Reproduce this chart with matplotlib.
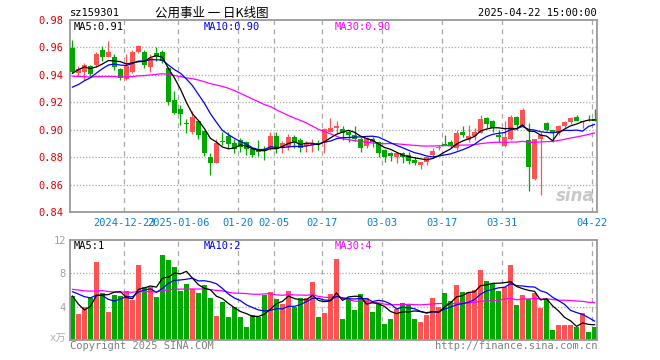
import numpy as np
import pandas as pd
import matplotlib
matplotlib.use('Agg')
import matplotlib.pyplot as plt

# daily bars 2024-12-10 .. 2025-04-22
opens = [0.9595, 0.941, 0.9423, 0.9465, 0.947, 0.958, 0.9533, 0.953, 0.944, 0.937,
         0.942, 0.9567, 0.957, 0.9455, 0.9557, 0.9567, 0.945, 0.9215, 0.915, 0.9047,
         0.8985, 0.9066, 0.8993, 0.8803, 0.876, 0.8915, 0.8957, 0.8906, 0.8925, 0.891,
         0.8857, 0.885, 0.8857, 0.8857, 0.8954, 0.8876, 0.8876, 0.8945, 0.8925, 0.888,
         0.8885, 0.890, 0.890, 0.8986, 0.901, 0.9003, 0.898, 0.896, 0.893, 0.8883,
         0.893, 0.8913, 0.8852, 0.8833, 0.880, 0.8828, 0.8816, 0.8777, 0.8743, 0.8767,
         0.8816, 0.8865, 0.8897, 0.8911, 0.8865, 0.8984, 0.8928, 0.8953, 0.8977, 0.9089,
         0.9065, 0.8962, 0.888, 0.893, 0.9095, 0.9027, 0.8925, 0.864, 0.8935, 0.9047,
         0.8998, 0.8974, 0.9027, 0.9059, 0.9095, 0.9058, 0.9085, 0.9075]
highs = [0.9655, 0.9465, 0.949, 0.947, 0.957, 0.961, 0.965, 0.955, 0.945, 0.955,
         0.958, 0.962, 0.958, 0.955, 0.960, 0.958, 0.946, 0.9285, 0.918, 0.9076,
         0.9134, 0.907, 0.900, 0.8833, 0.893, 0.8986, 0.8986, 0.893, 0.894, 0.8915,
         0.8875, 0.8925, 0.888, 0.898, 0.898, 0.8915, 0.897, 0.8965, 0.894, 0.8915,
         0.893, 0.8925, 0.9015, 0.9083, 0.9066, 0.9027, 0.900, 0.9027, 0.8947, 0.895,
         0.8945, 0.892, 0.886, 0.884, 0.8835, 0.884, 0.8835, 0.880, 0.8767, 0.8804,
         0.8865, 0.8889, 0.896, 0.8923, 0.8998, 0.9025, 0.9031, 0.901, 0.9106, 0.9095,
         0.907, 0.8998, 0.906, 0.911, 0.910, 0.9156, 0.9047, 0.8935, 0.898, 0.9055,
         0.900, 0.9035, 0.9065, 0.9095, 0.911, 0.9065, 0.9107, 0.915]
lows = [0.9415, 0.939, 0.936, 0.939, 0.946, 0.950, 0.953, 0.9435, 0.936, 0.936,
        0.941, 0.956, 0.945, 0.942, 0.950, 0.949, 0.918, 0.9115, 0.9035, 0.8978,
        0.897, 0.8935, 0.881, 0.8671, 0.8755, 0.8889, 0.887, 0.883, 0.884, 0.8815,
        0.880, 0.881, 0.8778, 0.885, 0.8829, 0.8829, 0.8855, 0.887, 0.884, 0.8835,
        0.8835, 0.8855, 0.8828, 0.898, 0.8974, 0.8925, 0.891, 0.892, 0.8837, 0.8866,
        0.8875, 0.880, 0.8767, 0.8775, 0.876, 0.8759, 0.8752, 0.8745, 0.8713, 0.8745,
        0.8791, 0.8853, 0.8888, 0.8865, 0.8852, 0.8949, 0.8913, 0.8925, 0.8975, 0.901,
        0.8986, 0.8913, 0.8875, 0.8925, 0.900, 0.902, 0.855, 0.863, 0.8524, 0.899,
        0.8908, 0.8965, 0.9015, 0.9045, 0.906, 0.901, 0.9063, 0.906]
closes = [0.9421, 0.944, 0.9472, 0.9404, 0.955, 0.953, 0.9567, 0.9455, 0.938, 0.9465,
          0.957, 0.961, 0.947, 0.952, 0.9533, 0.9504, 0.9205, 0.9125, 0.9115, 0.9043,
          0.909, 0.8962, 0.883, 0.876, 0.8906, 0.8911, 0.8896, 0.886, 0.8876, 0.886,
          0.8816, 0.8835, 0.8844, 0.8954, 0.8857, 0.890, 0.8945, 0.890, 0.8865, 0.890,
          0.8895, 0.8895, 0.9005, 0.901, 0.9027, 0.8975, 0.896, 0.8935, 0.887, 0.894,
          0.891, 0.8828, 0.8803, 0.8805, 0.8833, 0.8804, 0.8775, 0.876, 0.8767, 0.8799,
          0.8848, 0.8877, 0.8892, 0.8882, 0.8977, 0.896, 0.8953, 0.8984, 0.9081, 0.9045,
          0.901, 0.895, 0.895, 0.9095, 0.9035, 0.9144, 0.873, 0.893, 0.8965, 0.8998,
          0.8974, 0.9027, 0.9059, 0.9083, 0.9064, 0.9063, 0.9082, 0.9065]
volumes = [5.28, 3.12, 3.92, 5.0, 9.36, 5.6, 3.36, 5.4, 5.28, 5.88,
           4.8, 9.0, 6.32, 6.4, 5.2, 10.2, 9.6, 8.76, 5.92, 6.72,
           6.08, 5.68, 6.56, 5.08, 2.88, 4.6, 2.8, 4.0, 2.8, 1.6,
           3.0, 2.72, 5.4, 5.8, 4.92, 4.32, 5.92, 3.92, 5.0, 5.0,
           7.0, 2.8, 3.2, 5.52, 9.72, 2.52, 4.88, 3.6, 5.52, 5.0,
           3.36, 4.32, 1.92, 2.52, 3.72, 4.4, 4.28, 2.52, 2.16, 3.0,
           5.04, 3.92, 5.64, 4.68, 6.6, 5.8, 5.8, 6.0, 8.4, 7.08,
           6.72, 5.88, 6.32, 9.0, 4.2, 5.4, 4.88, 5.68, 3.88, 4.88,
           1.2, 1.8, 1.8, 1.8, 1.6, 3.2, 0.96, 1.56]

# closes / volumes before the visible window, estimated from where the MA lines start
prior_close = [0.950, 0.952, 0.948, 0.946, 0.951, 0.955, 0.949, 0.944, 0.947, 0.950,
               0.945, 0.941, 0.938, 0.940, 0.936, 0.934, 0.938, 0.935, 0.933, 0.928,
               0.925, 0.920, 0.918, 0.921, 0.921, 0.930, 0.938, 0.946, 0.9493]
prior_vol = [5.5, 7.0, 6.0, 8.2, 5.0, 6.5, 7.2, 5.8, 6.0, 4.8,
             6.4, 7.5, 5.9, 6.3, 5.6, 7.0, 6.1, 5.4, 6.6, 5.6,
             6.0, 7.0, 6.5, 6.1, 6.0, 8.0, 7.4, 2.9, 2.8]

tick_idx = [9, 18, 28, 34, 42, 52, 62, 72, 87]
tick_labels = ['2024-12-23', '2025-01-06', '01-20', '02-05', '02-17',
               '03-03', '03-17', '03-31', '04-22']

RED = '#FF5252'
GREEN = '#00A800'
GRID = '#A8A8A8'
FRAME = '#999999'
MONO = 'DejaVu Sans Mono'

o = np.array(opens)
h = np.array(highs)
l = np.array(lows)
c = np.array(closes)
v = np.array(volumes)
n = len(c)
x = np.arange(n)
up = c >= o
cols = np.where(up, RED, GREEN)


def ma(prior, vals, k):
    s = pd.Series(list(prior) + list(vals)).rolling(k).mean()
    return s.values[len(prior):]


ma5, ma10, ma30 = (ma(prior_close, c, k) for k in (5, 10, 30))
vma5, vma10, vma30 = (ma(prior_vol, v, k) for k in (5, 10, 30))

W, H = 660, 360
fig = plt.figure(figsize=(6.6, 3.6), dpi=100)
ax = fig.add_axes([70 / W, 1 - 212 / H, 527 / W, 192 / H])
axv = fig.add_axes([70 / W, 1 - 340 / H, 527 / W, 100 / H])

grid_x = np.array(tick_idx) - 0.35
for a in (ax, axv):
    a.set_xlim(-0.4, 87.4)
    for s in a.spines.values():
        s.set_color(FRAME)
        s.set_linewidth(1.3)
    for gx in grid_x:
        a.axvline(gx, color=GRID, lw=0.9, ls=(0, (4, 3.5)), zorder=0)
    a.tick_params(length=0)

# price panel
ax.set_ylim(0.84, 0.98)
for gy in np.arange(0.86, 0.97, 0.02):
    ax.axhline(gy, color=GRID, lw=0.9, ls=(0, (1, 1.5)), zorder=0)
ax.vlines(x, l, h, colors=cols, lw=0.9, zorder=2)
body = np.maximum(np.abs(c - o), 0.0004)
ax.bar(x, body, bottom=np.minimum(o, c), width=0.82, color=cols, lw=0, zorder=3)
ax.plot(x, ma30, color='#FF00FF', lw=0.9, zorder=4)
ax.plot(x, ma10, color='#0000FF', lw=0.9, zorder=4)
ax.plot(x, ma5, color='black', lw=0.9, zorder=4)
ax.set_yticks(np.arange(0.84, 0.981, 0.02))
ax.set_yticklabels(['%.2f' % t for t in np.arange(0.84, 0.981, 0.02)],
                   color='#E00000', family=MONO, fontsize=7.5)
ax.tick_params(axis='y', pad=5)
ax.set_xticks(grid_x)
ax.set_xticklabels(tick_labels, color='#0A7FCC', family=MONO, fontsize=7.5)
ax.tick_params(axis='x', pad=4)

# volume panel
axv.set_ylim(0, 12)
for gy in (4, 8):
    axv.axhline(gy, color=GRID, lw=0.9, ls=(0, (1, 1.5)), zorder=0)
axv.bar(x, v, width=0.82, color=cols, lw=0, zorder=2)
axv.plot(x, vma30, color='#FF00FF', lw=0.9, zorder=4)
axv.plot(x, vma10, color='#0000FF', lw=0.9, zorder=4)
axv.plot(x, vma5, color='black', lw=0.9, zorder=4)
axv.set_yticks([4, 8, 12])
axv.set_yticklabels(['4', '8', '12'], color='#A0A0A0', family=MONO, fontsize=7.5)
axv.tick_params(axis='y', pad=3)
axv.set_xticks([])

# texts
fig.text(70 / W, 1 - 13 / H, 'sz159301', family=MONO, fontsize=7.5, va='center')
fig.text(212 / W, 1 - 13 / H, '公用事业 一 日K线图', family=['Noto Sans CJK SC', 'DejaVu Sans'],
         fontsize=9, ha='center', va='center')
fig.text(597 / W, 1 - 13 / H, '2025-04-22 15:00:00', family=MONO, fontsize=7.5,
         ha='right', va='center')

fig.text(74 / W, 1 - 27 / H, 'MA5:%.2f' % ma5[-1], family=MONO, fontsize=7.5, va='center')
fig.text(204 / W, 1 - 27 / H, 'MA10:%.2f' % ma10[-1], family=MONO, fontsize=7.5,
         va='center', color='#0000FF')
fig.text(335 / W, 1 - 27 / H, 'MA30:%.2f' % ma30[-1], family=MONO, fontsize=7.5,
         va='center', color='#FF00FF')
fig.text(74 / W, 1 - 246 / H, 'MA5:%d' % int(vma5[-1]), family=MONO, fontsize=7.5, va='center')
fig.text(204 / W, 1 - 246 / H, 'MA10:%d' % int(vma10[-1]), family=MONO, fontsize=7.5,
         va='center', color='#0000FF')
fig.text(335 / W, 1 - 246 / H, 'MA30:%d' % int(vma30[-1]), family=MONO, fontsize=7.5,
         va='center', color='#FF00FF')

fig.text(66 / W, 1 - 339 / H, 'x万', family=[MONO, 'Noto Sans CJK SC'], fontsize=7.5,
         ha='right', va='center', color='#B0B0B0')
fig.text(70 / W, 1 - 346 / H, 'Copyright 2025 SINA.COM', family=MONO, fontsize=7.5,
         va='center', color='#808080')
fig.text(597 / W, 1 - 346 / H, 'http://finance.sina.com.cn', family=MONO, fontsize=7.5,
         ha='right', va='center', color='#808080')
fig.text(595 / W, 1 - 196 / H, 'sina', fontsize=12, style='italic', weight='bold',
         ha='right', va='center', color='#C8C8C8', zorder=1)

fig.savefig('out.png', dpi=100)
